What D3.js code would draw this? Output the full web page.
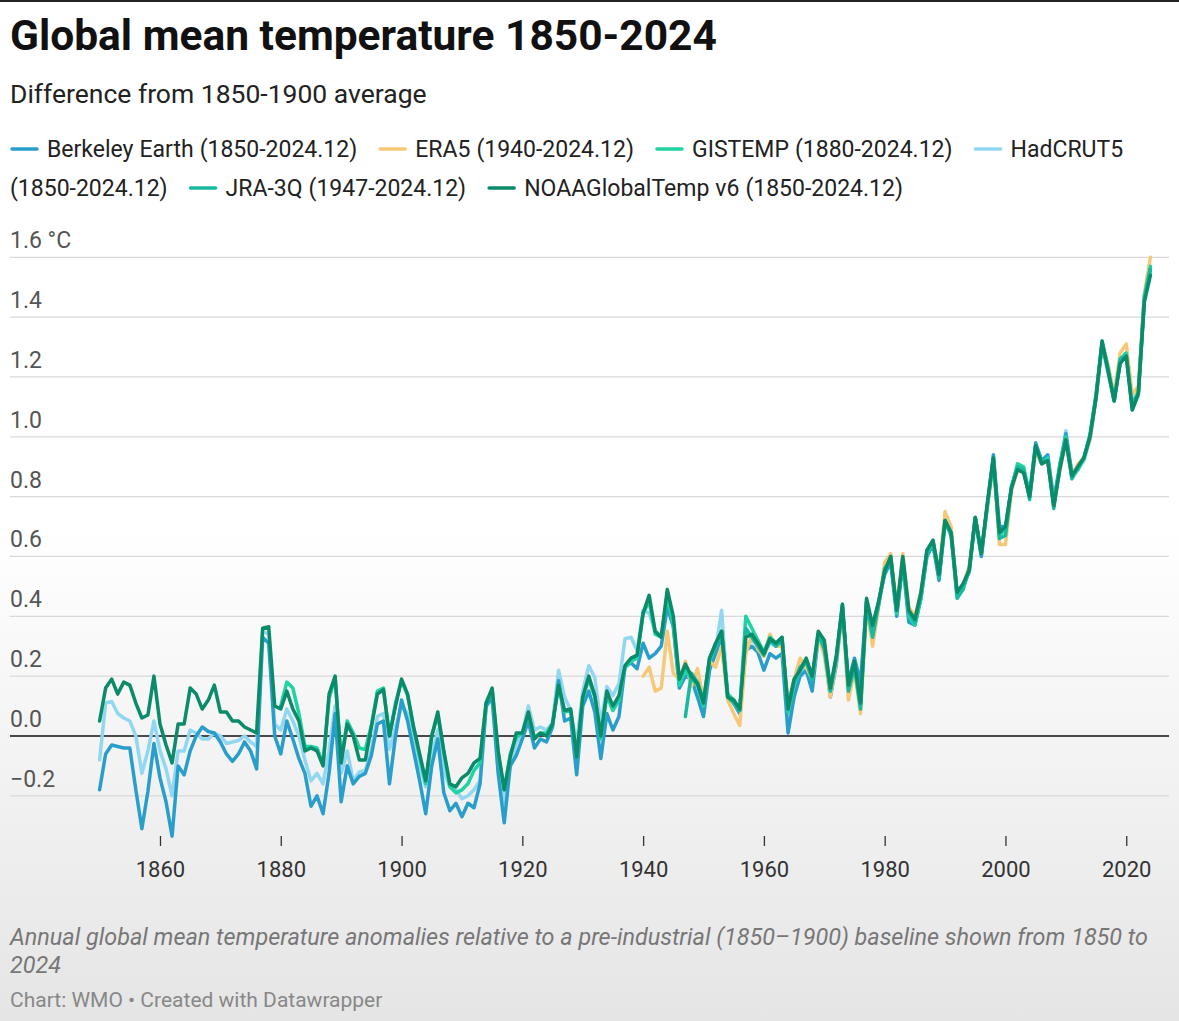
<!DOCTYPE html>
<html>
<head>
<meta charset="utf-8">
<script src="https://cdn.jsdelivr.net/npm/d3@7"></script>
<style>
  html, body { margin: 0; padding: 0; }
  body { width: 1179px; height: 1021px; overflow: hidden; font-family: Roboto, "Noto Sans", sans-serif; }
</style>
</head>
<body>
<div id="chart"></div>
<script>
// chart values
let berkeleyStart = 1850, era5Start = 1940, gistempStart = 1880, hadcrutStart = 1850, jraStart = 1947, noaaStart = 1850;

let berkeleyEarth = [
  -0.18, -0.06, -0.03, -0.035, -0.04, -0.04, -0.18, -0.31, -0.185, -0.025,
  -0.14, -0.22, -0.335, -0.10, -0.13, -0.05, 0.00, 0.03, 0.015, 0.01,
  -0.02, -0.06, -0.085, -0.06, -0.02, -0.05, -0.11, 0.33, 0.31, 0.00,
  -0.06, 0.05, -0.01, -0.075, -0.125, -0.235, -0.20, -0.26, -0.125, 0.075,
  -0.22, -0.10, -0.16, -0.135, -0.125, -0.065, 0.04, 0.05, -0.16, 0.00,
  0.12, 0.05, -0.05, -0.15, -0.26, -0.10, -0.01, -0.19, -0.25, -0.225,
  -0.27, -0.225, -0.24, -0.16, 0.10, 0.13, -0.125, -0.29, -0.10, -0.065,
  -0.01, 0.05, -0.04, -0.01, -0.02, 0.03, 0.185, 0.05, 0.06, -0.13,
  0.10, 0.15, 0.08, -0.075, 0.075, 0.02, 0.065, 0.23, 0.245, 0.225,
  0.31, 0.26, 0.275, 0.30, 0.43, 0.365, 0.16, 0.20, 0.19, 0.13,
  0.065, 0.22, 0.275, 0.33, 0.14, 0.11, 0.075, 0.285, 0.30, 0.28,
  0.22, 0.275, 0.26, 0.275, 0.01, 0.13, 0.20, 0.22, 0.15, 0.33,
  0.29, 0.13, 0.24, 0.43, 0.18, 0.26, 0.18, 0.45, 0.36, 0.45,
  0.54, 0.58, 0.40, 0.58, 0.38, 0.37, 0.46, 0.60, 0.64, 0.52,
  0.71, 0.68, 0.48, 0.50, 0.55, 0.73, 0.60, 0.77, 0.94, 0.70,
  0.70, 0.83, 0.90, 0.89, 0.81, 0.98, 0.92, 0.94, 0.79, 0.90,
  1.01, 0.88, 0.90, 0.93, 1.00, 1.13, 1.31, 1.23, 1.13, 1.25,
  1.28, 1.11, 1.15, 1.47, 1.56
];

let era5 = [
  0.20, 0.23, 0.15, 0.16, 0.35, 0.21, 0.19, 0.25, 0.165, 0.225,
  0.12, 0.25, 0.23, 0.30, 0.12, 0.075, 0.035, 0.275, 0.34, 0.29,
  0.265, 0.34, 0.30, 0.30, 0.11, 0.19, 0.26, 0.23, 0.19, 0.33,
  0.27, 0.13, 0.25, 0.42, 0.12, 0.22, 0.075, 0.43, 0.30, 0.43,
  0.58, 0.61, 0.43, 0.61, 0.43, 0.40, 0.48, 0.62, 0.65, 0.55,
  0.75, 0.70, 0.47, 0.50, 0.57, 0.73, 0.62, 0.76, 0.92, 0.64,
  0.64, 0.82, 0.89, 0.88, 0.80, 0.95, 0.91, 0.92, 0.77, 0.89,
  0.98, 0.87, 0.91, 0.93, 0.99, 1.13, 1.31, 1.24, 1.14, 1.28,
  1.31, 1.14, 1.17, 1.48, 1.60
];

let gistemp = [
  0.10, 0.18, 0.16, 0.075, -0.035, -0.035, -0.04, -0.095, 0.125, 0.195,
  -0.08, 0.05, 0.01, -0.04, -0.045, 0.035, 0.15, 0.16, 0.00, 0.11,
  0.185, 0.135, 0.025, -0.07, -0.16, 0.00, 0.07, -0.055, -0.17, -0.19,
  -0.18, -0.16, -0.115, -0.09, 0.11, 0.155, -0.06, -0.18, -0.06, -0.005,
  0.01, 0.075, -0.005, 0.01, 0.01, 0.04, 0.17, 0.08, 0.085, -0.07,
  0.125, 0.19, 0.13, -0.01, 0.135, 0.085, 0.12, 0.23, 0.25, 0.26,
  0.41, 0.45, 0.34, 0.33, 0.47, 0.37, 0.17, 0.22, 0.19, 0.17,
  0.10, 0.25, 0.30, 0.35, 0.14, 0.12, 0.085, 0.40, 0.36, 0.32,
  0.28, 0.33, 0.31, 0.33, 0.08, 0.17, 0.22, 0.25, 0.19, 0.34,
  0.30, 0.15, 0.26, 0.44, 0.16, 0.24, 0.10, 0.45, 0.35, 0.44,
  0.55, 0.60, 0.41, 0.59, 0.40, 0.37, 0.46, 0.61, 0.65, 0.54,
  0.72, 0.68, 0.47, 0.50, 0.55, 0.73, 0.61, 0.77, 0.92, 0.67,
  0.69, 0.83, 0.91, 0.90, 0.80, 0.97, 0.91, 0.93, 0.77, 0.91,
  1.00, 0.87, 0.89, 0.93, 1.01, 1.14, 1.32, 1.23, 1.12, 1.26,
  1.28, 1.10, 1.15, 1.47, 1.57
];

let hadcrut5 = [
  -0.08, 0.11, 0.115, 0.075, 0.06, 0.05, 0.00, -0.125, -0.05, 0.05,
  -0.05, -0.11, -0.20, -0.05, -0.05, 0.02, 0.01, -0.01, -0.01, 0.01,
  0.00, -0.025, -0.02, -0.015, 0.00, -0.02, -0.035, 0.35, 0.34, 0.04,
  0.02, 0.09, 0.05, 0.00, -0.08, -0.15, -0.125, -0.16, -0.05, 0.10,
  -0.125, -0.05, -0.15, -0.12, -0.115, -0.045, 0.065, 0.075, -0.045, 0.03,
  0.10, 0.075, -0.01, -0.10, -0.17, -0.07, 0.02, -0.12, -0.17, -0.18,
  -0.21, -0.20, -0.18, -0.15, 0.10, 0.12, -0.115, -0.225, -0.10, -0.025,
  0.01, 0.10, 0.02, 0.03, 0.02, 0.045, 0.22, 0.13, 0.085, -0.025,
  0.15, 0.235, 0.195, 0.04, 0.165, 0.135, 0.175, 0.325, 0.33, 0.285,
  0.42, 0.41, 0.35, 0.335, 0.465, 0.38, 0.185, 0.22, 0.195, 0.175,
  0.10, 0.24, 0.285, 0.42, 0.14, 0.12, 0.075, 0.30, 0.32, 0.30,
  0.275, 0.31, 0.30, 0.315, 0.065, 0.14, 0.21, 0.23, 0.185, 0.33,
  0.30, 0.16, 0.26, 0.43, 0.18, 0.25, 0.13, 0.45, 0.36, 0.44,
  0.55, 0.59, 0.41, 0.59, 0.41, 0.39, 0.46, 0.61, 0.64, 0.53,
  0.72, 0.67, 0.47, 0.50, 0.55, 0.72, 0.60, 0.77, 0.92, 0.68,
  0.69, 0.84, 0.89, 0.89, 0.81, 0.95, 0.91, 0.93, 0.78, 0.90,
  1.02, 0.86, 0.89, 0.92, 0.99, 1.13, 1.30, 1.21, 1.12, 1.25,
  1.28, 1.10, 1.14, 1.46, 1.55
];

let jra3q = [
  0.065, 0.21, 0.18,
  0.12, 0.26, 0.30, 0.35, 0.13, 0.11, 0.085, 0.36, 0.33, 0.30,
  0.27, 0.32, 0.30, 0.32, 0.10, 0.18, 0.23, 0.25, 0.19, 0.34,
  0.29, 0.15, 0.26, 0.43, 0.15, 0.23, 0.09, 0.44, 0.33, 0.44,
  0.56, 0.59, 0.42, 0.59, 0.41, 0.38, 0.47, 0.62, 0.65, 0.53,
  0.72, 0.67, 0.46, 0.49, 0.56, 0.73, 0.61, 0.77, 0.93, 0.66,
  0.67, 0.83, 0.90, 0.89, 0.79, 0.97, 0.92, 0.92, 0.76, 0.90,
  0.99, 0.86, 0.90, 0.93, 1.00, 1.14, 1.31, 1.22, 1.12, 1.26,
  1.27, 1.09, 1.14, 1.46, 1.56
];

let noaaGlobalTemp = [
  0.05, 0.16, 0.19, 0.14, 0.18, 0.17, 0.11, 0.06, 0.07, 0.20,
  0.04, -0.03, -0.09, 0.04, 0.04, 0.16, 0.14, 0.09, 0.12, 0.17,
  0.08, 0.08, 0.05, 0.05, 0.03, 0.02, 0.01, 0.36, 0.365, 0.10,
  0.09, 0.15, 0.09, 0.05, -0.05, -0.04, -0.05, -0.10, 0.14, 0.20,
  -0.09, 0.04, 0.00, -0.08, -0.08, 0.03, 0.14, 0.155, 0.00, 0.10,
  0.19, 0.14, 0.03, -0.06, -0.15, 0.00, 0.08, -0.05, -0.16, -0.17,
  -0.14, -0.125, -0.09, -0.075, 0.11, 0.16, -0.05, -0.18, -0.07, 0.01,
  0.01, 0.08, -0.01, 0.01, 0.00, 0.04, 0.17, 0.085, 0.09, -0.07,
  0.13, 0.20, 0.135, 0.00, 0.15, 0.10, 0.135, 0.235, 0.26, 0.27,
  0.41, 0.47, 0.35, 0.33, 0.49, 0.40, 0.19, 0.24, 0.20, 0.175,
  0.11, 0.26, 0.31, 0.35, 0.13, 0.12, 0.09, 0.33, 0.34, 0.31,
  0.275, 0.325, 0.31, 0.33, 0.09, 0.19, 0.22, 0.26, 0.20, 0.35,
  0.32, 0.16, 0.27, 0.44, 0.17, 0.25, 0.11, 0.46, 0.37, 0.45,
  0.55, 0.60, 0.42, 0.60, 0.42, 0.39, 0.48, 0.62, 0.655, 0.54,
  0.72, 0.68, 0.48, 0.51, 0.555, 0.73, 0.61, 0.78, 0.93, 0.68,
  0.70, 0.83, 0.89, 0.88, 0.80, 0.97, 0.91, 0.92, 0.77, 0.89,
  0.99, 0.87, 0.90, 0.93, 1.00, 1.13, 1.32, 1.22, 1.12, 1.245,
  1.27, 1.09, 1.145, 1.45, 1.54
];

let seriesNames = [
  "Berkeley Earth (1850-2024.12)",
  "ERA5 (1940-2024.12)",
  "GISTEMP (1880-2024.12)",
  "HadCRUT5 (1850-2024.12)",
  "JRA-3Q (1947-2024.12)",
  "NOAAGlobalTemp v6 (1850-2024.12)"
];
let seriesColors = ["#2a9ecb", "#f6c878", "#1fd3a2", "#92d7f1", "#19b9a0", "#0b8b69"];

let xTicks = [1860, 1880, 1900, 1920, 1940, 1960, 1980, 2000, 2020];
let yTicks = [-0.2, 0, 0.2, 0.4, 0.6, 0.8, 1.0, 1.2, 1.4, 1.6];

let width = 1179, height = 1021;

let svg = d3.select("#chart").append("svg")
    .attr("width", width)
    .attr("height", height);

// soft grey fade at the bottom, like the datawrapper export
let grad = svg.append("defs").append("linearGradient")
    .attr("id", "bg")
    .attr("x1", 0).attr("y1", 0).attr("x2", 0).attr("y2", 1);
grad.append("stop").attr("offset", "0%").attr("stop-color", "#ffffff");
grad.append("stop").attr("offset", "52%").attr("stop-color", "#ffffff");
grad.append("stop").attr("offset", "100%").attr("stop-color", "#e5e5e5");

svg.append("rect").attr("width", width).attr("height", height).attr("fill", "url(#bg)");
svg.append("line").attr("x1", 0).attr("x2", width).attr("y1", 1).attr("y2", 1)
    .attr("stroke", "#222").attr("stroke-width", 2);

// header
svg.append("text")
    .attr("x", 10).attr("y", 50)
    .attr("font-size", 42.5).attr("font-weight", 700)
    .attr("fill", "#111")
    .text("Global mean temperature 1850-2024");

svg.append("text")
    .attr("x", 10).attr("y", 103)
    .attr("font-size", 26.5)
    .attr("fill", "#222")
    .text("Difference from 1850-1900 average");

// legend, flowed word by word so it wraps like the original
let legend = svg.append("g");
let lx = 10, ly = 157, maxX = 1169, lineH = 39;

seriesNames.forEach(function (name, i) {
    if (lx + 36 > maxX) { lx = 10; ly += lineH; }
    legend.append("line")
        .attr("x1", lx + 2).attr("x2", lx + 27)
        .attr("y1", ly - 8).attr("y2", ly - 8)
        .attr("stroke", seriesColors[i])
        .attr("stroke-width", 3.5)
        .attr("stroke-linecap", "round");
    lx += 37;
    let words = name.split(" ");
    words.forEach(function (w, j) {
        let t = legend.append("text")
            .attr("font-size", 23)
            .attr("fill", "#222")
            .text(w);
        let wlen = t.node().getComputedTextLength();
        if (lx + wlen > maxX) { lx = 10; ly += lineH; }
        t.attr("x", lx).attr("y", ly);
        lx += wlen + (j < words.length - 1 ? 6 : 0);
    });
    lx += 21;
});

// scales
let x = d3.scaleLinear().domain([1850, 2024]).range([99.6, 1150.4]);
let y = d3.scaleLinear().domain([-0.2, 1.6]).range([795.8, 257.3]);

// grid lines and y labels
let grid = svg.append("g");
yTicks.forEach(function (v) {
    grid.append("line")
        .attr("x1", 10).attr("x2", 1169)
        .attr("y1", y(v)).attr("y2", y(v))
        .attr("stroke", v === 0 ? "#111" : "#d9d9d9")
        .attr("stroke-width", v === 0 ? 1.5 : 1.2);
    grid.append("text")
        .attr("x", 10).attr("y", y(v) - 9)
        .attr("font-size", 23)
        .attr("fill", "#555")
        .text(v === 1.6 ? "1.6 °C" : d3.format(".1f")(v));
});

// x axis
let xAxis = d3.axisBottom(x)
    .tickValues(xTicks)
    .tickFormat(d3.format("d"))
    .tickSize(10)
    .tickPadding(15);

let xg = svg.append("g")
    .attr("transform", "translate(0,836)")
    .call(xAxis);
xg.select(".domain").remove();
xg.selectAll(".tick line").attr("stroke", "#333").attr("stroke-width", 1.3);
xg.selectAll(".tick text")
    .attr("font-size", 22)
    .attr("font-family", "Roboto, sans-serif")
    .attr("fill", "#333");

// lines
let allSeries = [
    {start: berkeleyStart, values: berkeleyEarth},
    {start: era5Start, values: era5},
    {start: gistempStart, values: gistemp},
    {start: hadcrutStart, values: hadcrut5},
    {start: jraStart, values: jra3q},
    {start: noaaStart, values: noaaGlobalTemp}
];

let line = d3.line()
    .x(d => x(d.year))
    .y(d => y(d.value));

let drawOrder = [3, 0, 1, 2, 4, 5];
drawOrder.forEach(function (i) {
    let s = allSeries[i];
    let pts = s.values.map((v, k) => ({year: s.start + k, value: v}));
    svg.append("path")
        .datum(pts)
        .attr("d", line)
        .attr("fill", "none")
        .attr("stroke", seriesColors[i])
        .attr("stroke-width", 3.5)
        .attr("stroke-linejoin", "round")
        .attr("stroke-linecap", "round");
});

// footer
svg.append("text")
    .attr("x", 10).attr("y", 945)
    .attr("font-size", 23.4).attr("font-style", "italic")
    .attr("fill", "#777")
    .text("Annual global mean temperature anomalies relative to a pre-industrial (1850\u20131900) baseline shown from 1850 to");
svg.append("text")
    .attr("x", 10).attr("y", 973)
    .attr("font-size", 23.4).attr("font-style", "italic")
    .attr("fill", "#777")
    .text("2024");

svg.append("text")
    .attr("x", 10).attr("y", 1007)
    .attr("font-size", 21)
    .attr("fill", "#888")
    .text("Chart: WMO \u2022 Created with Datawrapper");
</script>
</body>
</html>
